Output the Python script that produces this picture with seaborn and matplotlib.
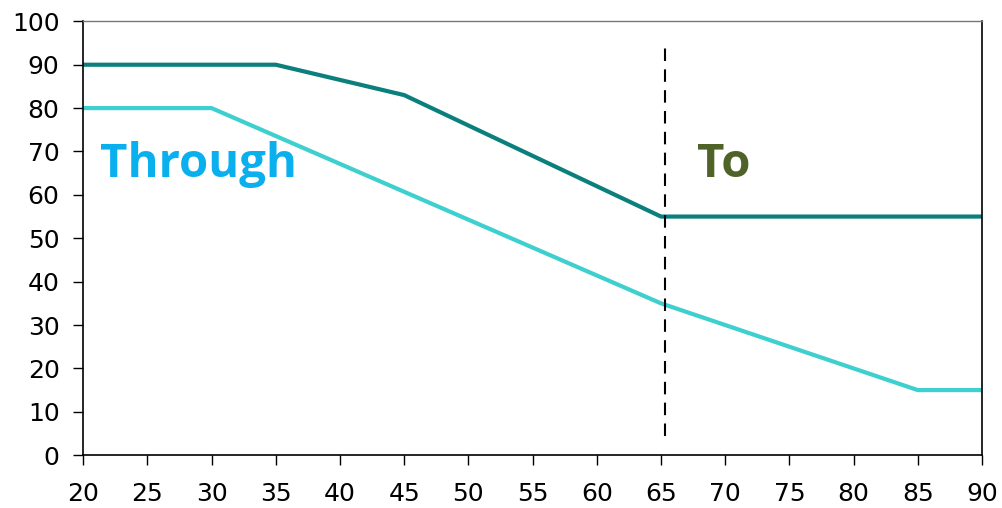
import numpy as np
import pandas as pd
import matplotlib
matplotlib.use('Agg')
import matplotlib.pyplot as plt
import seaborn as sns

# data
to_x = [20, 35, 45, 65, 90]
to_y = [90, 90, 83, 55, 55]
through_x = [20, 30, 65, 85, 90]
through_y = [80, 80, 35, 15, 15]
x_ticks = list(range(20, 95, 5))
y_ticks = list(range(0, 110, 10))
split_x = 65.3

df = pd.concat([
    pd.DataFrame({'x': to_x, 'y': to_y, 'series': 'To'}),
    pd.DataFrame({'x': through_x, 'y': through_y, 'series': 'Through'}),
])

sns.set_style('white')
plt.rcParams['font.family'] = ['DejaVu Sans']

fig, ax = plt.subplots(figsize=(10.02, 5.08), dpi=100)
sns.lineplot(data=df, x='x', y='y', hue='series',
             palette={'To': '#0a7f7c', 'Through': '#3ecfcf'},
             linewidth=3, legend=False, ax=ax, sort=False)

ax.plot([split_x, split_x], [4.5, 95], color='black', linestyle=(0, (6, 4)), linewidth=1.5)

ax.text(21.3, 67, 'Through', color='#0ab0ee', fontsize=34, fontweight='bold',
        family='Open Sans', va='center', ha='left')
ax.text(67.8, 67, 'To', color='#4f6228', fontsize=34, fontweight='bold',
        family='Open Sans', va='center', ha='left')

ax.set_xlim(20, 90)
ax.set_ylim(0, 100)
ax.set_xticks(x_ticks)
ax.set_yticks(y_ticks)
ax.tick_params(axis='both', direction='out', length=7, width=1, labelsize=18,
               colors='black', bottom=True, left=True)
ax.tick_params(axis='x', pad=12)
ax.tick_params(axis='y', pad=10)
for lbl in ax.get_xticklabels() + ax.get_yticklabels():
    lbl.set_family('DejaVu Sans')
ax.set_xlabel('')
ax.set_ylabel('')
for s in ['left', 'bottom', 'right']:
    ax.spines[s].set_color('black')
    ax.spines[s].set_linewidth(1.2)
ax.spines['top'].set_color('#777777')
ax.spines['top'].set_linewidth(1)

fig.subplots_adjust(left=0.083, right=0.98, top=0.958, bottom=0.104)
fig.savefig('out.png', dpi=100)
